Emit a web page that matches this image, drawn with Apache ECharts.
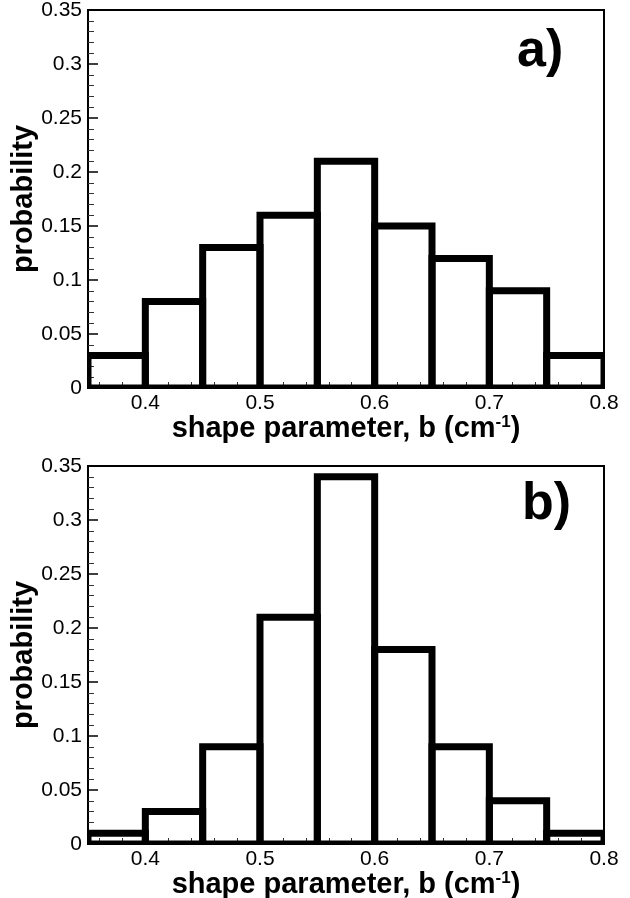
<!doctype html>
<html>
<head>
	<meta charset="utf-8">
	<title>shape parameter histograms</title>
	<script src="https://cdn.jsdelivr.net/npm/echarts@6/dist/echarts.min.js"></script>
	<style>
		html, body {margin:0;padding:0;background:#fff;}
		#main {width:630px;height:898px;}
	</style>
</head>
<body>
	<div id="main"></div>
<script>
	"use strict";
	// bin edges of the histogram (cm^-1)
	var binEdges = [0.35, 0.4, 0.45, 0.5, 0.55, 0.6, 0.65, 0.7, 0.75, 0.8];
	// probability per bin, panel a) and panel b)
	var probA = [0.03, 0.08, 0.13, 0.16, 0.21, 0.15, 0.12, 0.09, 0.03];
	var probB = [0.01, 0.03, 0.09, 0.21, 0.34, 0.18, 0.09, 0.04, 0.01];
	// tick labels
	var xTicks = [0.4, 0.5, 0.6, 0.7, 0.8];
	var xMinorTicks = [0.36, 0.38, 0.42, 0.44, 0.46, 0.48, 0.52, 0.54, 0.56, 0.58,
		0.62, 0.64, 0.66, 0.68, 0.72, 0.74, 0.76, 0.78];
	var panelLabels = ['a)', 'b)'];

	var FONT = "'Liberation Sans', Arial, Helvetica, sans-serif";

	//bin rows: [left edge, right edge, probability]
	function binData(prob){
		var rows = [];
		for(let i=0; i<prob.length; i++){
			rows.push([binEdges[i], binEdges[i+1], prob[i]]);
		}
		return rows;
	}

	function renderBin(params, api){
		var p0 = api.coord([api.value(0), api.value(2)]);
		var p1 = api.coord([api.value(1), 0]);
		return {
			type: 'rect',
			shape: {x: p0[0], y: p0[1], width: p1[0]-p0[0], height: p1[1]-p0[1]},
			style: {fill: 'rgba(0,0,0,0)', stroke: '#000', lineWidth: 7}
		};
	}

	function mainXAxis(idx){
		return {
			type: 'value', gridIndex: idx, min: 0.35, max: 0.8,
			name: '{t|shape parameter, b (cm}{s|-1}{t|)}',
			nameLocation: 'middle', nameGap: 26, nameMoveOverlap: false,
			nameTextStyle: {
				rich: {
					t: {fontFamily: FONT, fontSize: 29, fontWeight: 'bold', color: '#000'},
					s: {fontFamily: FONT, fontSize: 17, fontWeight: 'bold', color: '#000', verticalAlign: 'top'}
				}
			},
			axisLine: {lineStyle: {color: '#000', width: 2}},
			axisTick: {inside: true, length: 10, customValues: xTicks, lineStyle: {color: '#000', width: 1.5}},
			axisLabel: {customValues: xTicks, margin: 5, fontFamily: FONT, fontSize: 21, color: '#000',
				formatter: function(v){ return String(+v.toFixed(2)); }},
			splitLine: {show: false}
		};
	}
	function minorXAxis(idx){
		return {
			type: 'value', gridIndex: idx, min: 0.35, max: 0.8, position: 'bottom',
			axisLine: {show: false},
			axisTick: {inside: true, length: 6, customValues: xMinorTicks, lineStyle: {color: '#333', width: 1}},
			axisLabel: {show: false},
			splitLine: {show: false}
		};
	}
	function yAxis(idx){
		return {
			type: 'value', gridIndex: idx, min: 0, max: 0.35, interval: 0.05,
			name: 'probability', nameLocation: 'middle', nameGap: 50, nameMoveOverlap: false,
			nameTextStyle: {fontFamily: FONT, fontSize: 29, fontWeight: 'bold', color: '#000'},
			axisLine: {show: true, lineStyle: {color: '#000', width: 2}},
			axisTick: {inside: true, length: 10, lineStyle: {color: '#000', width: 1.5}},
			minorTick: {show: true, splitNumber: 5, length: 6, lineStyle: {color: '#333', width: 1}},
			axisLabel: {margin: 6, fontFamily: FONT, fontSize: 21, color: '#000',
				formatter: function(v){ return String(+v.toFixed(2)); }},
			splitLine: {show: false}
		};
	}

	var myChart = echarts.init(document.getElementById('main'));
	myChart.setOption({
		animation: false,
		backgroundColor: '#fff',
		title: [
			{text: panelLabels[0], left: 517, top: 26, padding: 0,
				textStyle: {fontFamily: FONT, fontSize: 52, fontWeight: 'bold', color: '#000'}},
			{text: panelLabels[1], left: 522, top: 479, padding: 0,
				textStyle: {fontFamily: FONT, fontSize: 52, fontWeight: 'bold', color: '#000'}}
		],
		grid: [
			{left: 88, top: 10, width: 516, height: 378, show: true, borderColor: '#000', borderWidth: 2,
				backgroundColor: 'transparent', outerBoundsMode: 'none', containLabel: false},
			{left: 88, top: 466, width: 516, height: 378, show: true, borderColor: '#000', borderWidth: 2,
				backgroundColor: 'transparent', outerBoundsMode: 'none', containLabel: false}
		],
		xAxis: [mainXAxis(0), mainXAxis(1), minorXAxis(0), minorXAxis(1)],
		yAxis: [yAxis(0), yAxis(1)],
		series: [
			{type: 'custom', xAxisIndex: 0, yAxisIndex: 0, clip: true, renderItem: renderBin,
				encode: {x: [0, 1], y: 2}, data: binData(probA)},
			{type: 'custom', xAxisIndex: 1, yAxisIndex: 1, clip: true, renderItem: renderBin,
				encode: {x: [0, 1], y: 2}, data: binData(probB)}
		]
	});
</script>
</body>
</html>
